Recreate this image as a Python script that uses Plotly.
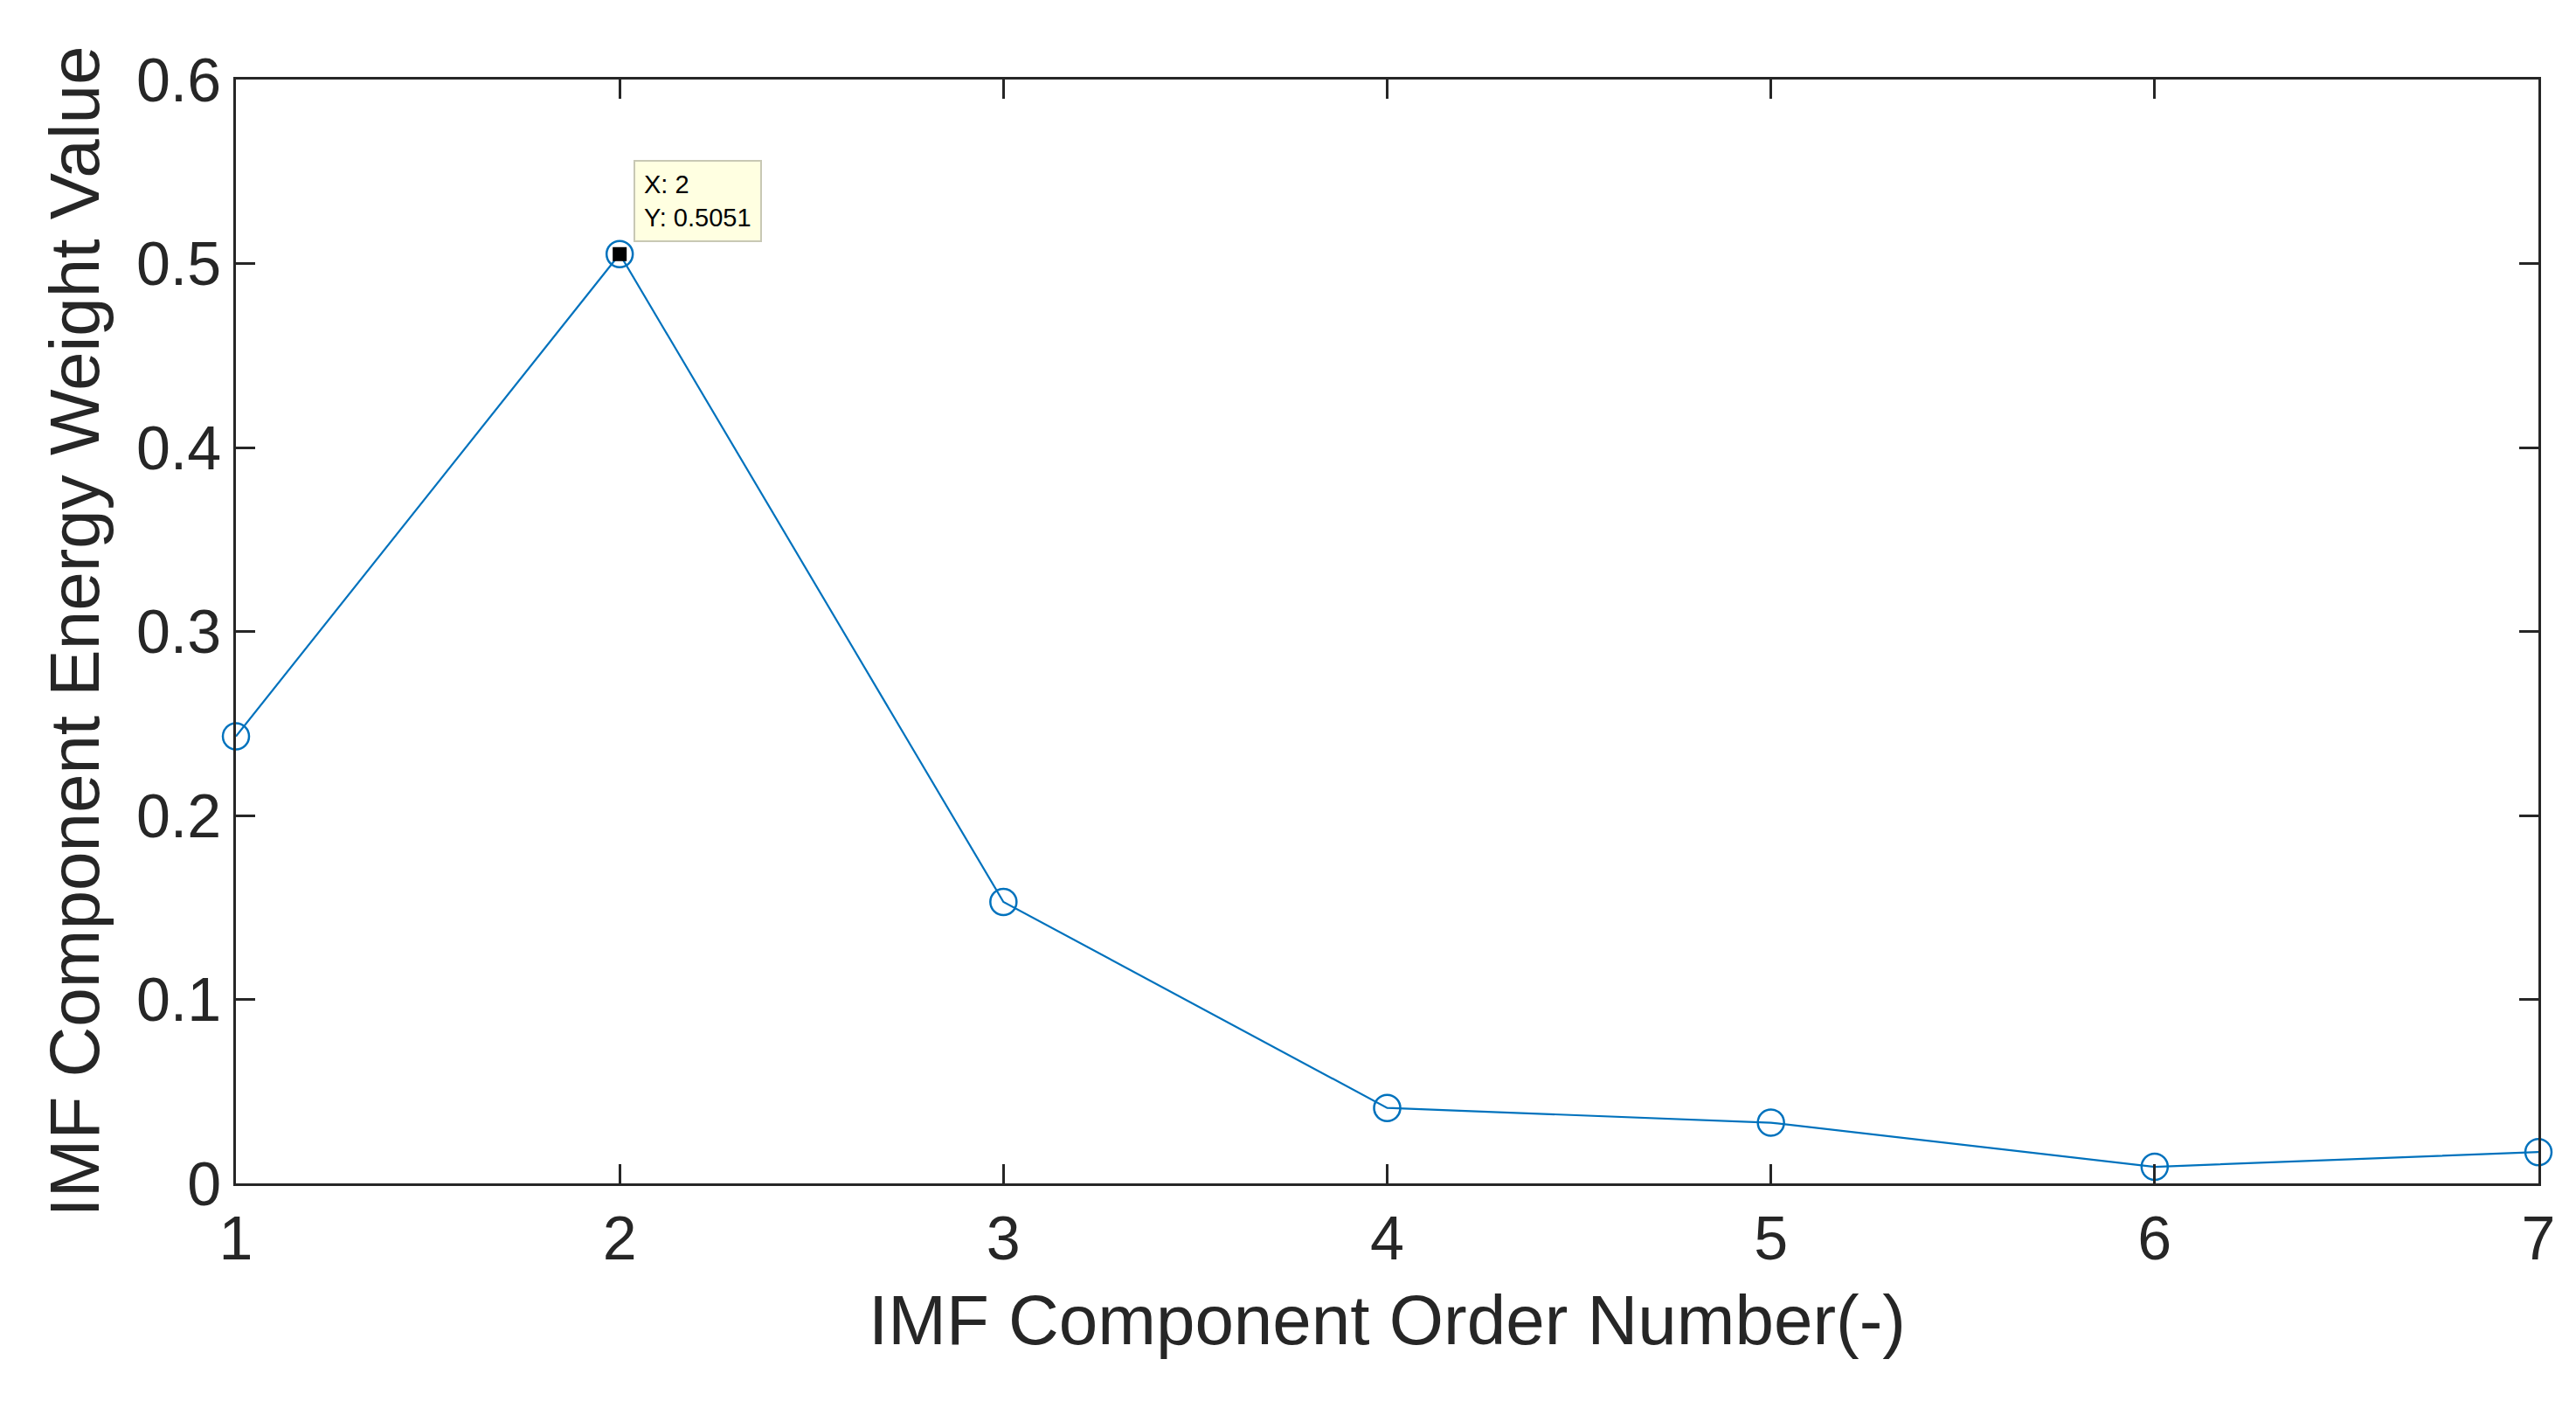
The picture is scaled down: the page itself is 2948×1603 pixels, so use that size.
import plotly.graph_objects as go

orders = [1, 2, 3, 4, 5, 6, 7]
weights = [0.243, 0.5051, 0.153, 0.041, 0.033, 0.009, 0.017]
tip_x = 2
tip_y = 0.5051

F = "Liberation Sans, Arial"
fig = go.Figure()
fig.add_trace(go.Scatter(x=orders, y=weights, mode="lines+markers",
    line=dict(color="#0072BD", width=2.2),
    marker=dict(symbol="circle-open", size=30, color="#0072BD", line=dict(width=2.5)),
    cliponaxis=False, showlegend=False))
fig.add_trace(go.Scatter(x=[tip_x], y=[tip_y], mode="markers",
    marker=dict(symbol="square", size=16, color="black"), cliponaxis=False, showlegend=False))
fig.add_annotation(x=tip_x, y=tip_y, xref="x", yref="y", ax=16, ay=-14, axref="pixel", ayref="pixel",
    text="X: 2<br>Y: 0.5051", showarrow=True, arrowcolor="rgba(0,0,0,0)", xanchor="left", yanchor="bottom",
    align="left", font=dict(family=F, size=29, color="black"),
    bgcolor="#FFFFE1", bordercolor="#C8C8B4", borderwidth=2, borderpad=10)

ax = dict(showline=True, mirror="ticks", linecolor="#262626", linewidth=2.5, ticks="inside",
          ticklen=22, tickwidth=2.5, tickcolor="#262626", showgrid=False, zeroline=False,
          tickfont=dict(family=F, size=70, color="#262626"))
fig.update_xaxes(**ax, range=[1, 7], tickvals=orders, title=dict(text="IMF Component Order Number(-)",
    font=dict(family=F, size=80, color="#262626"), standoff=28))
fig.update_yaxes(**ax, range=[0, 0.6], tickvals=[0, 0.1, 0.2, 0.3, 0.4, 0.5, 0.6], ticktext=["0","0.1","0.2","0.3","0.4","0.5","0.6"],
    title=dict(text="IMF Component Energy Weight Value",
    font=dict(family=F, size=80, color="#262626"), standoff=16))
fig.update_layout(width=2948, height=1603, plot_bgcolor="white", paper_bgcolor="white",
    margin=dict(l=262, r=51, t=83, b=257))
fig.write_html("out.html")
